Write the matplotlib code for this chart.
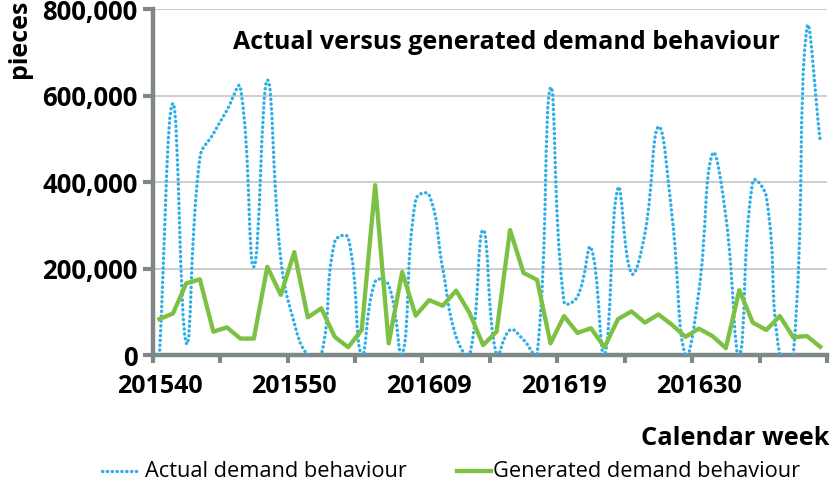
import numpy as np
import matplotlib.pyplot as plt
from matplotlib.path import Path
from matplotlib.patches import PathPatch
from matplotlib.lines import Line2D
from matplotlib.ticker import FuncFormatter

plt.rcParams['font.family'] = ['Open Sans', 'DejaVu Sans']

# weekly demand, 50 calendar weeks
tick_labels = ["201540", "201550", "201609", "201619", "201630"]
tick_index = [0, 10, 20, 30, 40]

actual = [0, 582000, 27000, 456000, 512000, 566000, 619000, 204000, 636000, 222000,
          74000, 0, 0, 262000, 271000, 0, 170000, 162000, 0, 359000,
          370000, 201000, 42000, 0, 289000, 0, 58000, 35000, 0, 618000,
          123000, 135000, 248000, 0, 386000, 189000, 282000, 528000, 324000, 0,
          148000, 465000, 320000, 0, 401000, 366000, 0, 0, 754000, 494000]

generated = [83000, 96000, 166000, 175000, 54000, 64000, 38000, 38000, 204000, 139000,
             238000, 87000, 108000, 42000, 18000, 58000, 393000, 27000, 192000, 91000,
             127000, 114000, 149000, 97000, 23000, 54000, 289000, 190000, 174000, 27000,
             90000, 51000, 62000, 18000, 83000, 101000, 75000, 94000, 70000, 42000,
             61000, 44000, 16000, 150000, 75000, 58000, 90000, 41000, 44000, 19000]

blue = '#2eaee6'
green = '#7cc144'
axis_gray = '#7f8886'


def smooth_path(ax, x, y, t=0.45):
    # excel-like smoothed line, control points weighted by on-screen segment length
    pts = np.column_stack([x, y]).astype(float)
    scr = ax.transData.transform(pts)
    n = len(pts)
    verts = [pts[0]]
    codes = [Path.MOVETO]
    for i in range(n - 1):
        cps = []
        for j, side in ((i, 1), (i + 1, -1)):
            a, b = max(j - 1, 0), min(j + 1, n - 1)
            d_prev = np.hypot(*(scr[j] - scr[a]))
            d_next = np.hypot(*(scr[b] - scr[j]))
            tot = d_prev + d_next
            if tot == 0:
                cps.append(pts[j])
                continue
            f = t * (d_next if side == 1 else d_prev) / tot
            cps.append(pts[j] + side * f * (pts[b] - pts[a]))
        verts += [cps[0], cps[1], pts[i + 1]]
        codes += [Path.CURVE4] * 3
    return Path(verts, codes)


fig = plt.figure(figsize=(8.32, 4.84), dpi=100)
ax = fig.add_axes([0.1835, 0.2665, 0.994 - 0.1835, 0.981 - 0.2665])

x = np.arange(len(actual))
ax.set_xlim(-0.5, len(actual) - 0.5)
ax.set_ylim(0, 800000)

patch = PathPatch(smooth_path(ax, x, actual), fill=False, edgecolor=blue, lw=2.4,
                  linestyle=(0, (0.1, 1.35)), capstyle='round', zorder=3)
ax.add_patch(patch)
ax.plot(x, generated, color=green, lw=3.1, zorder=4)

ax.set_yticks([0, 200000, 400000, 600000, 800000])
ax.yaxis.set_major_formatter(FuncFormatter(lambda v, p: f"{int(v):,}"))
ax.grid(axis='y', color='#c9c9c9', lw=1.3)
ax.set_axisbelow(True)

# category labels every 10 weeks, tick marks every 5 weeks between categories
ax.set_xticks(tick_index)
ax.set_xticklabels(tick_labels)
ax.set_xticks(np.arange(-0.5, len(actual), 5), minor=True)
ax.tick_params(axis='x', which='major', length=0, pad=14, labelsize=18)
ax.tick_params(axis='x', which='minor', length=6, width=3, color=axis_gray, direction='out')
ax.tick_params(axis='y', length=7, width=3, color=axis_gray, pad=4, labelsize=18.5)
for lab in ax.get_xticklabels() + ax.get_yticklabels():
    lab.set_fontweight('bold')

for side in ['top', 'right']:
    ax.spines[side].set_visible(False)
for side in ['left', 'bottom']:
    ax.spines[side].set_color(axis_gray)
    ax.spines[side].set_linewidth(3.2)

ax.text(0.525, 0.905, 'Actual versus generated demand behaviour', transform=ax.transAxes,
        ha='center', va='center', fontsize=18, fontweight='bold')

fig.text(0.997, 0.094, 'Calendar week', ha='right', va='center',
         fontsize=18.3, fontweight='bold')
fig.text(0.024, 1.0, 'pieces', rotation=90, ha='center', va='top',
         fontsize=18, fontweight='bold')

# legend along the bottom
fig.add_artist(Line2D([0.122, 0.168], [0.026, 0.026], color=blue, lw=2.4,
                      linestyle=(0, (0.1, 1.35)), dash_capstyle='round'))
fig.text(0.174, 0.026, 'Actual demand behaviour', ha='left', va='center', fontsize=15.7)
fig.add_artist(Line2D([0.549, 0.590], [0.026, 0.026], color=green, lw=3.1))
fig.text(0.593, 0.026, 'Generated demand behaviour', ha='left', va='center', fontsize=15.7)

fig.savefig('out.png', dpi=100)
